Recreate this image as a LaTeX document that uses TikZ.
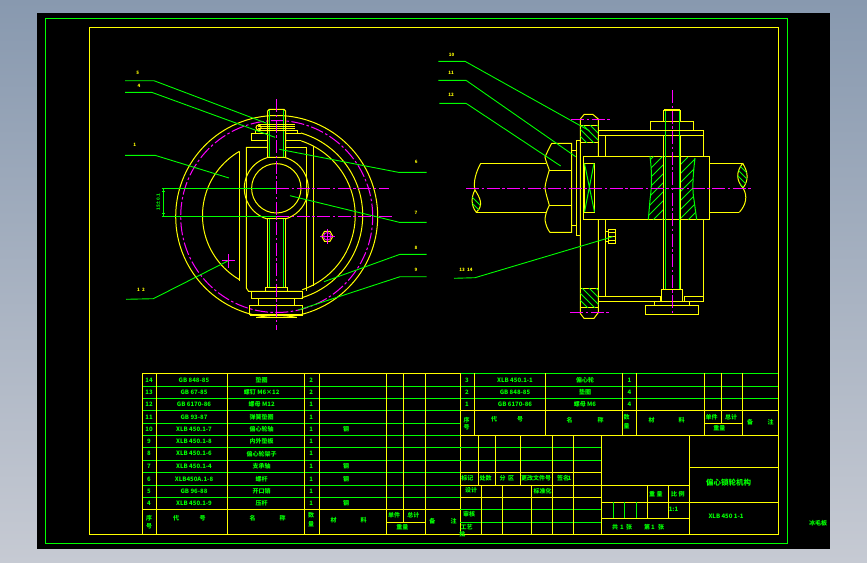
\documentclass[tikz,border=0pt]{standalone}
\usepackage{fontspec}
\setmainfont{Noto Sans CJK SC}
\usetikzlibrary{calc,positioning}
\definecolor{cadgreen}{RGB}{0,255,0}
\definecolor{cadyellow}{RGB}{255,255,0}
\definecolor{cadpink}{RGB}{255,0,255}
\tikzset{
  yel/.style={draw=cadyellow,line width=1pt},
  grn/.style={draw=cadgreen,line width=1pt},
  leader/.style={draw=cadgreen,line width=.9pt},
  hatchline/.style={draw=cadgreen,line width=.8pt},
  axis/.style={draw=cadpink,line width=1pt,dash pattern=on 13pt off 2.5pt on 2.5pt off 2.5pt},
  txt/.style={text=cadgreen,inner sep=0pt,font=\fontsize{6}{6}\selectfont\bfseries},
  num/.style={text=cadyellow,inner sep=0pt,font=\fontsize{4.5}{4.5}\selectfont\bfseries}
}
\begin{document}
\begin{tikzpicture}[x=1pt,y=-1pt]
  \useasboundingbox (0,0) rectangle (867,562);
  \shade[top color={rgb,255:red,136;green,153;blue,175},bottom color={rgb,255:red,198;green,202;blue,211}] (0,0) rectangle (867,562);
  \fill[black] (37,13) rectangle (830,549);
  \draw[grn] (45.3,18.3) rectangle (787.3,543.3);
  \draw[yel] (89.3,27.5) rectangle (778.3,534.3);

  % left view
  \coordinate (c1) at (276.7,216.5);
  \coordinate (c2) at (276.7,215.5);
  \coordinate (c3) at (276.3,188.3);
  \draw[yel] (c1) circle[radius=101pt];
  \draw[axis] (c1) circle[radius=96pt];
  \draw[yel] (c2) ++(73.6:86pt) arc[start angle=73.6,end angle=-73,radius=86pt];
  \draw[yel] (c2) ++(72:78.5pt) arc[start angle=72,end angle=-71,radius=78.5pt];
  \draw[yel] (c2) ++(120:74.2pt) arc[start angle=120,end angle=240,radius=74.2pt];
  \draw[yel] (c3) circle[radius=24.7pt];
  \draw[yel] (c3) ++(73.7:32pt) arc[start angle=73.7,end angle=-73.7,radius=32pt];
  \draw[yel] (c3) ++(106.3:32pt) arc[start angle=106.3,end angle=253.7,radius=32pt];
  \draw[yel] (239.3,151.7) -- (239.3,280.7);
  \draw[yel] (313.3,146) -- (313.3,286);
  \draw[yel] (267.7,147.3) -- (246.3,147.3) -- (246.3,288) -- (248.5,291.3) -- (302.7,291.3);
  \draw[yel] (285.7,147.3) -- (306.7,147.3) -- (306.7,291.3);
  % upper bolt
  \draw[yel] (267.7,157.3) -- (267.7,111) -- (269.3,109.3) -- (284,109.3) -- (285.7,111) -- (285.7,157.3) -- cycle;
  \draw[grn] (269.5,110) -- (269.5,157) (283.7,110) -- (283.7,157);
  \draw[yel] (258.3,124.3) -- (295,124.3) (258.3,126.3) -- (295,126.3) (258.3,128.3) -- (295,128.3) (258.3,130.5) -- (295,130.5);
  \draw[yel] (258.5,127.5) circle[radius=2.5pt];
  \draw[yel] (255,133.3) -- (255,130.7) -- (297.3,130.7) -- (297.3,133.3);
  \draw[yel] (267.7,133.3) -- (251,133.3) -- (251,140.7) -- (267.7,140.7);
  \draw[yel] (285.7,133.3) -- (301,133.3) (285.7,140.7) -- (301,140.7);
  % lower bolt and foot
  \draw[yel] (267.3,218.7) rectangle (285.7,287.3);
  \draw[grn] (269.7,219) -- (269.7,287) (283.7,219) -- (283.7,287);
  \draw[yel] (265.3,287.3) rectangle (287.7,291.3);
  \draw[yel] (251,291.3) rectangle (302.7,298.7);
  \draw[yel] (258.3,298.7) rectangle (294.3,305.3);
  \draw[yel] (249.3,305.3) rectangle (302.7,314);
  \draw[yel] (250.3,315.2) -- (302.7,315.2) (256,317.3) -- (296.7,317.3);
  % screw and pin marks
  \draw[yel] (321.8,236.3) -- (324.5,231.3) -- (330,231.3) -- (332.8,236.3) -- (330,241.3) -- (324.5,241.3) -- cycle;
  \draw[draw=cadpink,line width=.8pt] (327.3,236.3) circle[radius=3.8pt];
  \draw[draw=cadpink,line width=.8pt] (320,236.3) -- (335,236.3) (327.3,229) -- (327.3,243.5);
  \draw[draw=cadpink,line width=.8pt] (221.5,260.7) -- (235,260.7) (228.3,254) -- (228.3,267.5);
  \draw[axis] (276.3,99.3) -- (276.3,330);
  \draw[axis] (276.3,188.3) -- (389,188.3);
  \draw[axis] (276.3,216.3) -- (391.7,216.3);
  % dimension
  \draw[grn] (161.7,188.3) -- (276.3,188.3);
  \draw[grn] (161.7,216.3) -- (276.3,216.3);
  \draw[grn] (163.7,188.3) -- (163.7,216.3);
  \draw[grn] (162.3,191.5) -- (165,191.5) (162.3,213) -- (165,213);
  \node[txt,rotate=90,font=\fontsize{4.5}{4.5}\selectfont\bfseries] (dimtext) at (158,202) {15±0.1};

  % right view
  \draw[yel] (480.7,163.3) -- (545.7,163.3) (476.3,212.3) -- (545.7,212.3);
  \draw[yel] (480.7,163.3) .. controls (476,172) and (473,182) .. (475,190) .. controls (480,198) and (484,205) .. (476.3,212.3);
  \draw[yel] (475,190) .. controls (471,197) and (471,206) .. (476.3,212.3);
  \draw[yel] (709.3,163.3) -- (742.7,163.3) (709.3,212.3) -- (739.3,212.3);
  \draw[yel] (742.7,163.3) .. controls (736,172) and (736,180) .. (743,188) .. controls (748,196) and (746,205) .. (739.3,212.3);
  \draw[yel] (742.7,163.3) .. controls (748,172) and (749,180) .. (743,188);
  \begin{scope}
    \clip (475,190) .. controls (480,198) and (484,205) .. (476.3,212.3) .. controls (471,206) and (471,197) .. (475,190);
    \foreach \i in {0,6,...,24} \draw[hatchline] (465,190+\i) -- (490,215+\i);
  \end{scope}
  \begin{scope}
    \clip (742.7,163.3) .. controls (736,172) and (736,180) .. (743,188) .. controls (749,180) and (748,172) .. (742.7,163.3);
    \foreach \i in {0,6,...,24} \draw[hatchline] (730,156+\i) -- (755,181+\i);
  \end{scope}
  % nut
  \draw[yel] (571.7,143.3) -- (551.7,143.3) .. controls (548,150) and (546,155) .. (545,157) .. controls (546,162) and (548,166) .. (549.3,170) .. controls (547,178) and (545,184) .. (545,188.3) .. controls (546,195) and (548,200) .. (549.3,205.3) .. controls (547,210) and (545,215) .. (545,220) .. controls (546,226) and (548,230) .. (550,232.3) -- (571.7,232.3) -- cycle;
  \draw[yel] (549.3,170) -- (571.7,170) (549.3,205.3) -- (571.7,205.3);
  \draw[yel] (571.7,150) rectangle (576.3,225.7);
  \draw[yel] (576.3,140) rectangle (580.3,235.7);
  % disc
  \draw[yel] (580.3,119) -- (584.3,114.3) -- (592.7,114.3) -- (598.3,119) -- (598.3,156.3);
  \draw[yel] (580.3,119) -- (580.3,313.5) -- (584,318.3) -- (594,318.3) -- (598.3,312.5) -- (598.3,219.7);
  \draw[yel] (580.3,125) -- (598.3,125) (580.3,142.3) -- (598.3,142.3);
  \draw[yel] (580.3,288.7) -- (598.3,288.7) (580.3,307.3) -- (598.3,307.3);
  \begin{scope}
    \clip (580.3,125) rectangle (598.3,142.3);
    \foreach \i in {0,7,...,35} \draw[hatchline] (566+\i,122) -- (590+\i,146);
  \end{scope}
  \begin{scope}
    \clip (580.3,288.7) rectangle (598.3,307.3);
    \foreach \i in {0,7,...,35} \draw[hatchline] (566+\i,286) -- (590+\i,310);
  \end{scope}
  % housing
  \draw[yel] (598.3,130) rectangle (703.3,135.7);
  \draw[yel] (605.7,135.7) -- (605.7,156.3) (605.7,219.7) -- (605.7,296);
  \draw[yel] (703.3,135.7) -- (703.3,156.3) (703.3,219.7) -- (703.3,301.7);
  \draw[yel] (598.3,296) -- (660,296) (598.3,301.7) -- (660,301.7) (684,296) -- (703.3,296) (684,301.7) -- (703.3,301.7);
  \draw[yel] (660,296) -- (660,301.7) (684,296) -- (684,301.7);
  \draw[yel] (650,130) -- (650,121.3) -- (693.3,121.3) -- (693.3,130);
  \draw[yel] (663.3,121.3) -- (663.3,110.5) -- (680.7,110.5) -- (680.7,121.3);
  \draw[yel] (664.3,109.3) -- (679.7,109.3);
  \draw[yel] (583.3,156.3) rectangle (709.3,219.7);
  % cross cut
  \draw[yel] (584.3,163.3) rectangle (594.7,212.3);
  \draw[grn] (584.5,163.5) -- (594.5,212) (594,163.5) -- (584.5,212);
  % hatched bore
  \draw[grn] (650,156.3) .. controls (652,172) and (652,185) .. (650,200) -- (648.3,219.7);
  \begin{scope}
    \clip (650,156.3) .. controls (652,172) and (652,185) .. (650,200) -- (648.3,219.7) -- (663.3,219.7) -- (663.3,156.3) -- cycle;
    \foreach \i in {0,9,...,90} \draw[hatchline] (640,170+\i) -- (670,140+\i);
  \end{scope}
  \draw[grn] (695,158) .. controls (693,175) and (692,190) .. (694,200) -- (696.7,219.7);
  \begin{scope}
    \clip (680.7,156.3) -- (695,158) .. controls (693,175) and (692,190) .. (694,200) -- (696.7,219.7) -- (680.7,219.7) -- cycle;
    \foreach \i in {0,9,...,90} \draw[hatchline] (675,170+\i) -- (705,140+\i);
  \end{scope}
  % long bolt
  \draw[yel] (663.3,135.7) -- (663.3,289.3) (680.7,135.7) -- (680.7,289.3);
  \draw[grn] (665.5,111) -- (665.5,289) (679,111) -- (679,289);
  \draw[yel] (650,130) -- (693.3,130);
  \draw[yel] (661.3,289.3) rectangle (682.7,301.7);
  \draw[yel] (654,301.7) rectangle (689.3,305.3);
  \draw[yel] (645.3,305.3) rectangle (698.7,314.3);
  % small screw
  \draw[yel] (608,229.3) rectangle (615.7,243.3);
  \draw[yel] (608,232.7) -- (615.7,232.7) (608,236.7) -- (615.7,236.7) (608,240) -- (615.7,240);
  \draw[yel] (608,231.7) -- (605.7,231.7) -- (605.7,241) -- (608,241);
  % axes of right view
  \draw[axis] (466,188.3) -- (752.7,188.3);
  \draw[axis] (672.3,90) -- (672.3,313.3);
  \draw[axis] (571,119.3) -- (610,119.3);
  \draw[axis] (570,312.3) -- (610,312.3);

  % leaders and their numbers
  \foreach \name/\lx/\ly/\txtv/\xa/\ya/\xb/\yb/\xc/\yc in {
      la/137.7/73.3/5/125/80.7/154/80.7/266.7/123.3,
      lb/139/86/4/125/92.3/151.7/92.3/275/137.3,
      lc/134.7/145.3/1/125/155.3/155/155.3/229/178,
      ld/141/290/1{\ }{\ }2/126/299.3/153.3/298.7/228.3/260.7,
      le/416.3/162.3/6/426.7/172.3/398.3/172.3/279.3/149.3,
      lf/416/213.3/7/426.7/222.3/399.3/222.3/290/195.7,
      lg/416/248.3/8/426.7/254.3/400/254.3/324/281.7,
      lh/416/270/9/426.7/276.7/400/276.7/298.3/310,
      li/451.7/54.7/10/438.3/61.3/465/61.3/589.3/130.7,
      lj/451/73.3/11/438.3/80.3/466/80.3/575.7/156.7,
      lk/451/95.3/12/439.3/103.3/466/103.3/560.7/166,
      ll/466/270/13{\ }{\ }14/454/278.3/475/277.7/612.7/236.7}
  {
    \node[num] (\name) at (\lx,\ly) {\txtv};
    \coordinate (\name a) at (\xa,\ya);
    \coordinate (\name b) at (\xb,\yb);
    \coordinate (\name c) at (\xc,\yc);
    \draw[leader] (\name a) -- (\name b) -- (\name c);
  }

  % parts list, left
  \foreach \ypos in {386.3,398.3,410.7,423.3,435.3,447.3,460.3,472.7,485.3,497.3}
    \draw[grn] (142.3,\ypos) -- (460.3,\ypos);
  \draw[yel] (142.3,373.5) -- (460.3,373.5);
  \draw[yel] (142.3,509.3) -- (460.3,509.3);
  \draw[yel] (142.3,534.3) -- (460.3,534.3);
  \draw[yel] (386.3,522.3) -- (425.3,522.3);
  \foreach \xpos in {142.3,156,227.3,304.3,319.3,386.3,425.3}
    \draw[yel] (\xpos,373.5) -- (\xpos,534.3);
  \draw[yel] (403.3,373.5) -- (403.3,522.3);
  \foreach \ypos/\seq/\code/\title/\qty/\mat in {
      380/14/GB 848-85/垫圈/2/,
      392.3/13/GB 67-85/螺钉 M6×12/2/,
      404.5/12/GB 6170-86/螺母 M12/1/,
      417/11/GB 93-87/弹簧垫圈/1/,
      429.3/10/XLB 450.1-7/偏心轮轴/1/钢,
      441.3/9/XLB 450.1-8/内外垫板/1/,
      453.8/8/XLB 450.1-6/偏心轮架子/1/,
      466.5/7/XLB 450.1-4/支承轴/1/钢,
      479/6/XLB450A.1-8/螺杆/1/钢,
      491.3/5/GB 96-88/开口销/1/,
      503.3/4/XLB 450.1-9/压杆/1/钢}
  {
    \node[txt] (seq\seq) at (149,\ypos) {\seq};
    \node[txt] (code\seq) at (194,\ypos) {\code};
    \node[txt] (title\seq) at (261.7,\ypos) {\title};
    \node[txt] (qty\seq) at (311.3,\ypos) {\qty};
    \node[txt] (mat\seq) at (346,\ypos) {\mat};
  }

  % parts list, right
  \foreach \ypos in {373.3,386.3,398.3}
    \draw[grn] (460.3,\ypos) -- (778.3,\ypos);
  \draw[yel] (460.3,410.3) -- (778.3,410.3);
  \draw[yel] (704.3,423.3) -- (742,423.3);
  \draw[yel] (460.3,435.3) -- (778.3,435.3);
  \foreach \xpos in {474.3,545.3,622.3,636.3,704.3,742}
    \draw[yel] (\xpos,373.3) -- (\xpos,435.3);
  \draw[yel] (721.3,373.3) -- (721.3,423.3);
  \draw[yel] (460.3,373.3) -- (460.3,534.3);
  \foreach \ypos/\seq/\code/\title/\qty in {
      380/3/XLB 450.1-1/偏心轮/1,
      392.3/2/GB 848-85/垫圈/4,
      404.3/1/GB 6170-86/螺母 M6/4}
  {
    \node[txt] (seq\seq) at (467,\ypos) {\seq};
    \node[txt] (code\seq) at (515,\ypos) {\code};
    \node[txt] (title\seq) at (585,\ypos) {\title};
    \node[txt] (qty\seq) at (629.5,\ypos) {\qty};
  }

  % title block
  \draw[grn] (460.3,447.3) -- (601,447.3) (460.3,460.3) -- (601,460.3);
  \draw[yel] (460.3,472.3) -- (601,472.3) (460.3,485.3) -- (689,485.3) (460.3,497.3) -- (601,497.3);
  \draw[grn] (460.3,509.3) -- (601,509.3) (460.3,522.3) -- (601,522.3);
  \draw[yel] (460.3,534.3) -- (778.3,534.3);
  \foreach \xpos in {478.3,495.3,520.3}
    \draw[yel] (\xpos,435.3) -- (\xpos,485.3);
  \foreach \xpos in {481.3,502.3,531.3}
    \draw[yel] (\xpos,485.3) -- (\xpos,534.3);
  \foreach \xpos in {552.3,573.3,601,689}
    \draw[yel] (\xpos,435.3) -- (\xpos,534.3);
  \draw[yel] (689,467.3) -- (778.3,467.3);
  \draw[yel] (601,502.3) -- (778.3,502.3);
  \draw[yel] (601,518.3) -- (689,518.3);
  \draw[yel] (647.3,485.3) -- (647.3,518.3) (668.3,485.3) -- (668.3,518.3);
  \draw[grn] (613.3,502.3) -- (613.3,518.3) (624.3,502.3) -- (624.3,518.3) (636.3,502.3) -- (636.3,518.3);

  % headings and block texts
  \foreach \xpos/\ypos/\txtv [count=\n] in {
      149/518.5/序,149/526/号,176/518.5/代,202.7/518.5/号,252.7/518.5/名,282.7/518.5/称,
      311/515.5/数,311/524/量,333.7/520/材,363.7/520/料,394/515.5/单件,413.3/515.5/总计,
      402.3/527.5/重量,432.3/521/备,453.7/521/注,
      466.7/419.7/序,466.7/427.3/号,494/419.7/代,520/419.7/号,569.7/420/名,600.7/420/称,
      626.7/417.3/数,626.7/426/量,651.7/420.7/材,681.7/420.7/料,711.7/417.3/单件,731/417.3/总计,
      719.3/428.3/重量,750/421.7/备,770.7/421.7/注,
      467.3/478.3/标记,485.7/478.3/处数,502.7/478.3/分,511/478.3/区,536/478.3/更改文件号,
      563/478.3/签名,569.5/478.3/1,471/490.7/设计,542.5/491/标准化,469/514/审核,466.7/527.3/工艺,462.3/534.3/批,
      652/494/重,659.5/494/量,674/494/比,681.5/494/例,673.5/509.5/1:1,
      615/527.3/共,622/527.3/1,629/527.3/张,647/527.3/第,653/527.3/1,661/527.3/张,
      726/516.7/XLB 450 1-1,818/523/冰毛板}
    \node[txt] (block\n) at (\xpos,\ypos) {\txtv};
  \node[txt,font=\fontsize{7.5}{7.5}\selectfont\bfseries] (drawtitle) at (728.5,482.5) {偏心锁轮机构};
\end{tikzpicture}
\end{document}
